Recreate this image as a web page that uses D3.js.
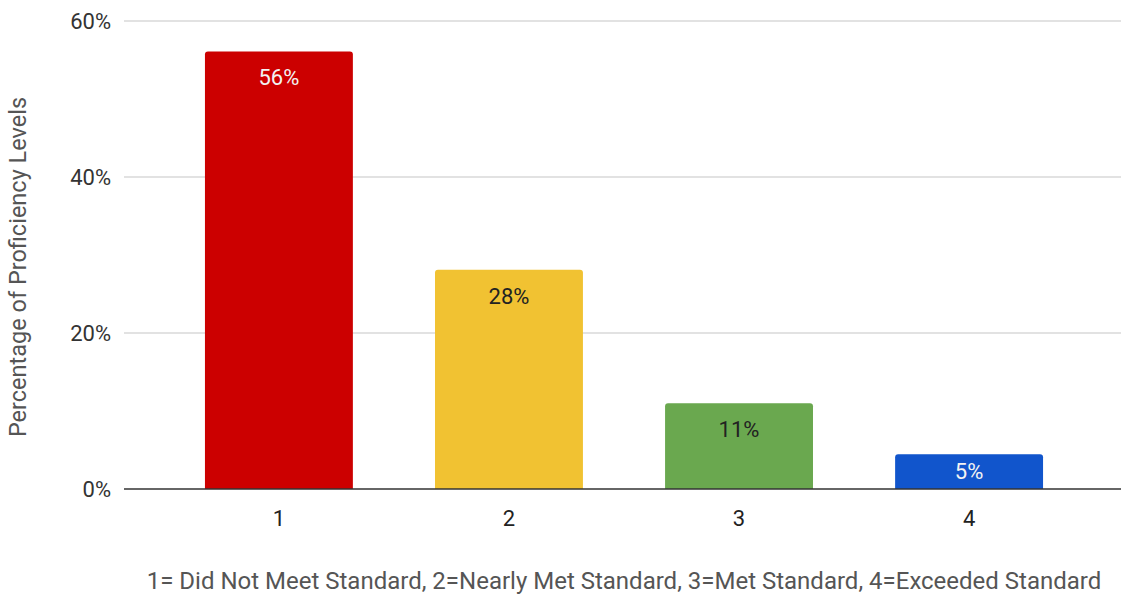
<!DOCTYPE html>
<html>
<head>
<meta charset="utf-8">
<script src="https://cdn.jsdelivr.net/npm/d3@7"></script>
<style>
  body { margin: 0; background: #fff; }
  text { font-family: Roboto, "Noto Sans", sans-serif; }
</style>
</head>
<body>
<div id="chart"></div>
<script>
var categories = ["1", "2", "3", "4"];
var values = [56.1, 28.1, 11.0, 4.45];
var labels = ["56%", "28%", "11%", "5%"];
var colors = ["#cc0000", "#f1c232", "#6aa84f", "#1155cc"];
var labelColors = ["#f3f3f3", "#222222", "#222222", "#f3f3f3"];
var yTicks = [0, 20, 40, 60];

var width = 1121, height = 594;

var svg = d3.select("#chart").append("svg")
    .attr("width", width)
    .attr("height", height);

// y scale: 0% at the baseline, 60% at the top gridline
var y = d3.scaleLinear().domain([0, 60]).range([489, 21]);

// bars are centred in a band that sits inside the gridline span
var x = d3.scaleBand()
    .domain(categories)
    .range([164, 1084])
    .paddingInner(0.357)
    .paddingOuter(0.178);

// gridlines
svg.append("g")
    .selectAll("line")
    .data(yTicks.filter(function(d) { return d > 0; }))
    .enter().append("line")
    .attr("x1", 124).attr("x2", 1121)
    .attr("y1", function(d) { return y(d); })
    .attr("y2", function(d) { return y(d); })
    .attr("stroke", "#d9d9d9")
    .attr("stroke-width", 1.5);

// y tick labels
svg.append("g")
    .selectAll("text")
    .data(yTicks)
    .enter().append("text")
    .attr("x", 111)
    .attr("y", function(d) { return y(d); })
    .attr("dy", "0.35em")
    .attr("text-anchor", "end")
    .style("font-size", "22px")
    .style("fill", "#333")
    .text(function(d) { return d + "%"; });

// bars with slightly rounded tops
var r = 3;
svg.append("g")
    .selectAll("path")
    .data(values)
    .enter().append("path")
    .attr("fill", function(d, i) { return colors[i]; })
    .attr("d", function(d, i) {
        var x0 = x(categories[i]), x1 = x0 + x.bandwidth(),
            y0 = y(0), y1 = y(d);
        return "M" + x0 + "," + y0 +
            "V" + (y1 + r) +
            "Q" + x0 + "," + y1 + " " + (x0 + r) + "," + y1 +
            "H" + (x1 - r) +
            "Q" + x1 + "," + y1 + " " + x1 + "," + (y1 + r) +
            "V" + y0 + "Z";
    });

// value labels inside the bars (short bars: centred vertically)
svg.append("g")
    .selectAll("text")
    .data(values)
    .enter().append("text")
    .attr("x", function(d, i) { return x(categories[i]) + x.bandwidth() / 2; })
    .attr("y", function(d) { return Math.min(y(d) + 26, (y(d) + y(0)) / 2); })
    .attr("dy", "0.35em")
    .attr("text-anchor", "middle")
    .style("font-size", "22px")
    .style("fill", function(d, i) { return labelColors[i]; })
    .text(function(d, i) { return labels[i]; });

// baseline
svg.append("line")
    .attr("x1", 124).attr("x2", 1121)
    .attr("y1", y(0)).attr("y2", y(0))
    .attr("stroke", "#333")
    .attr("stroke-width", 1.5);

// x category labels
svg.append("g")
    .selectAll("text")
    .data(categories)
    .enter().append("text")
    .attr("x", function(d) { return x(d) + x.bandwidth() / 2; })
    .attr("y", 518)
    .attr("dy", "0.35em")
    .attr("text-anchor", "middle")
    .style("font-size", "22px")
    .style("fill", "#222")
    .text(function(d) { return d; });

// y axis title
svg.append("text")
    .attr("transform", "translate(18,267) rotate(-90)")
    .attr("dy", "0.35em")
    .attr("text-anchor", "middle")
    .style("font-size", "23.5px")
    .style("fill", "#555")
    .text("Percentage of Proficiency Levels");

// x axis title
svg.append("text")
    .attr("x", 624)
    .attr("y", 581)
    .attr("dy", "0.35em")
    .attr("text-anchor", "middle")
    .style("font-size", "24px")
    .style("fill", "#555")
    .text("1= Did Not Meet Standard, 2=Nearly Met Standard, 3=Met Standard, 4=Exceeded Standard");
</script>
</body>
</html>
